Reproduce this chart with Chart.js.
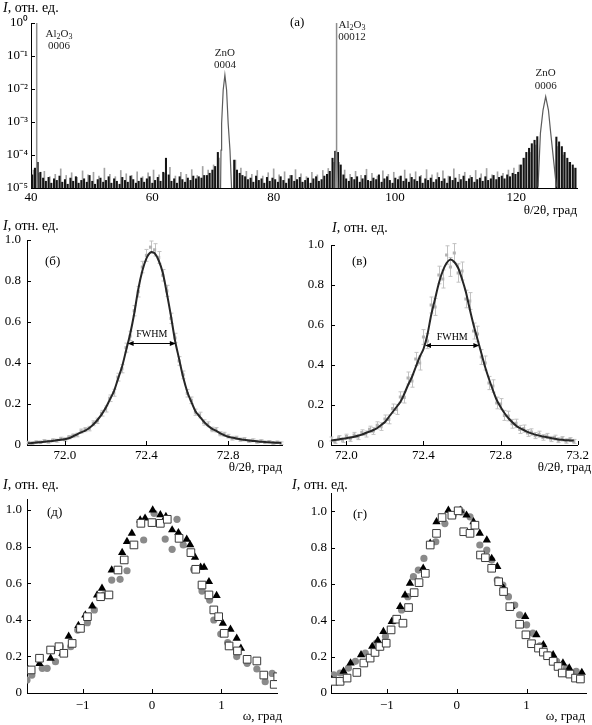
<!DOCTYPE html>
<html>
<head>
<meta charset="utf-8">
<title>ZnO / Al2O3 XRD</title>
<script src="https://cdn.jsdelivr.net/npm/chart.js@4.4.1/dist/chart.umd.min.js"></script>
<style>
  html, body { margin: 0; padding: 0; background: #fff; }
  body { position: relative; width: 592px; height: 725px; overflow: hidden; }
  canvas { position: absolute; }
</style>
</head>
<body>
<canvas id="chartA" width="592" height="225" style="left:0;top:0"></canvas>
<canvas id="chartB" width="296" height="265" style="left:0;top:215px"></canvas>
<canvas id="chartV" width="296" height="265" style="left:296px;top:215px"></canvas>
<canvas id="chartD" width="296" height="247" style="left:0;top:478px"></canvas>
<canvas id="chartG" width="304" height="247" style="left:288px;top:478px"></canvas>
<script>
// ---------- (а) wide θ/2θ scan, log scale ----------
const aXTicks = [40, 60, 80, 100, 120];
const aYTicks = [1e-5, 1e-4, 1e-3, 1e-2, 1e-1, 1];
const aYLabels = ['10⁻⁵', '10⁻⁴', '10⁻³', '10⁻²', '10⁻¹', '10⁰'];

// background spikes, in units of 1e-5 (null = under a peak)
const darkStart = 40.2, darkStep = 0.45;
const darkNoise = [
  2.5, 4, 6, 3, 2, 1.6, 2.1, 1.4, 1.9, 1.7,
  2.3, 1.5, 1.8, 1.3, 2.0, 1.6, 2.2, 1.4, 1.7, 1.9,
  1.5, 2.4, 1.6, 1.3, 1.8, 2.0, 1.5, 1.7, 2.2, 1.4,
  1.9, 1.6, 1.3, 2.1, 1.7, 1.5, 2.3, 1.8, 1.4, 1.6,
  2.0, 1.5, 1.9, 2.2, 1.4, 1.7, 2.1, 1.6, 3.0, 8.0,
  2.5, 1.6, 1.9, 1.4, 2.2, 1.8, 1.5, 2.0, 1.7, 2.3,
  1.9, 2.2, 2.0, 2.4, 2.4, 2.8, 3.5, 4.5, 12, null,
  null, null, null, null, 7, 3.5, 2.8, 2.4, 2.2, 1.8,
  2.0, 1.5, 2.3, 1.7, 1.9, 1.4, 2.1, 1.6, 2.0, 1.8,
  1.5, 2.2, 1.7, 1.4, 1.9, 2.4, 1.6, 1.8, 2.1, 1.5,
  1.7, 2.0, 1.4, 1.9, 2.2, 1.6, 1.8, 2.3, 2.6, 3.2,
  8, 13, 12, 5, 2.5, 1.9, 1.6, 2.1, 1.8, 2.2,
  1.5, 1.9, 2.4, 1.7, 1.6, 2.0, 1.8, 2.5, 1.5, 1.9,
  2.2, 1.7, 1.4, 2.0, 1.8, 2.3, 1.6, 1.9, 1.5, 2.1,
  1.8, 1.6, 2.2, 1.4, 1.9, 1.7, 2.0, 1.5, 1.8, 2.1,
  1.6, 1.9, 1.4, 2.2, 1.7, 2.0, 1.5, 1.8, 2.3, 1.6,
  1.9, 2.1, 1.5, 1.8, 2.0, 1.6, 2.2, 1.7, 1.9, 2.4,
  1.8, 2.1, 2.3, 1.9, 2.5, 2.2, 2.8, 2.6, 3.0, 5,
  8, 12, 16, 22, 28, 36, null, null, null, null,
  null, null, 35, 25, 18, 12, 8, 6, 5, 4
];
const greyStart = 40.4, greyStep = 0.9;
const greyNoise = [
  3.5, 2.8, 3.2, 2.2, 2.6, 3.8, 2.4, 2.9, 2.1, 3.3,
  2.5, 3.0, 2.3, 4.0, 2.6, 2.2, 3.4, 2.7, 2.4, 3.1,
  2.2, 2.9, 3.5, 2.5, 2.8, 4.2, 2.3, 3.0, 2.6, 3.6,
  2.4, 4.5, 3.5, 5, 8, null, null, 7, 4, 3.2,
  2.6, 3.4, 2.3, 2.9, 3.8, 2.5, 3.1, 2.4, 3.6, 2.7,
  2.2, 3.0, 2.5, 3.4, 3.9, 6, 6, 3.5, 2.6, 3.2,
  2.4, 3.7, 2.8, 2.3, 3.3, 2.6, 3.0, 2.2, 3.5, 2.7,
  3.1, 2.4, 3.6, 2.5, 2.9, 3.3, 2.3, 3.8, 2.6, 3.0,
  2.4, 3.4, 2.7, 3.9, 2.5, 3.1, 2.8, 3.5, 4.0, 5.0,
  8, 12, 20, null, null, null, 18, 10, 6, 4
];

// peak profiles [2θ, I]
const al0006 = [[40.86, 1e-5], [40.9, 6e-5], [40.93, 1e-2], [40.94, 1.0], [40.95, 1e-2], [40.98, 6e-5], [41.02, 1e-5]];
const zno0004 = [[71.25, 1e-5], [71.32, 1.4e-4], [71.42, 9e-4], [71.68, 9.3e-3], [71.96, 2.65e-2],
  [72.24, 9.3e-3], [72.5, 9e-4], [72.8, 1.4e-4], [73.06, 1e-5]];
const al00012 = [[90.2, 1e-5], [90.3, 1.3e-4], [90.33, 7.6e-4], [90.35, 1e-2], [90.36, 1.0],
  [90.37, 1e-2], [90.39, 7.6e-4], [90.42, 1.3e-4], [90.52, 1e-5]];
const zno0006 = [[123.58, 1.1e-5], [123.97, 4.6e-4], [124.4, 2.3e-3], [124.84, 5.9e-3],
  [125.29, 2.3e-3], [125.67, 4.6e-4], [126.6, 1.1e-5]];

const aNotes = [
  { x: 44.6, y: [0.46, 0.2], text: ['Al_2O_3', '0006'] },
  { x: 71.96, y: [0.123, 0.0534], text: ['ZnO', '0004'] },
  { x: 92.9, y: [0.87, 0.377], text: ['Al_2O_3', '00012'] },
  { x: 124.84, y: [0.0312, 0.0123], text: ['ZnO', '0006'] }
];

// ---------- (б) ZnO 0004 θ/2θ, sample 1 ----------
const bTicks = [72.0, 72.4, 72.8];
const bX = [71.82, 71.84, 71.86, 71.88, 71.90, 71.92, 71.94, 71.96, 71.98, 72.00,
  72.02, 72.04, 72.06, 72.08, 72.10, 72.12, 72.14, 72.16, 72.18, 72.20,
  72.22, 72.24, 72.26, 72.28, 72.30, 72.32, 72.34, 72.36, 72.38, 72.40,
  72.42, 72.44, 72.46, 72.48, 72.50, 72.52, 72.54, 72.56, 72.58, 72.60,
  72.62, 72.64, 72.66, 72.68, 72.70, 72.72, 72.74, 72.76, 72.78, 72.80,
  72.82, 72.84, 72.86, 72.88, 72.90, 72.92, 72.94, 72.96, 72.98, 73.00,
  73.02, 73.04, 73.06];
const bFit = [.008, .010, .012, .014, .016, .018, .020, .023, .026, .028,
  .033, .042, .052, .062, .070, .083, .100, .122, .148, .180,
  .220, .260, .320, .380, .460, .540, .640, .760, .850, .910,
  .940, .935, .900, .840, .740, .630, .510, .420, .330, .260,
  .210, .165, .140, .115, .095, .080, .070, .058, .048, .040,
  .036, .032, .028, .025, .022, .020, .018, .016, .015, .013,
  .012, .011, .010];
const bData = [.012, .009, .014, .013, .019, .016, .023, .021, .030, .027,
  .038, .045, .049, .068, .075, .080, .106, .118, .155, .176,
  .228, .255, .331, .372, .475, .532, .655, .748, .868, .925,
  .965, .952, .915, .828, .752, .618, .522, .410, .342, .252,
  .218, .160, .146, .110, .101, .076, .074, .055, .052, .043,
  .033, .035, .026, .028, .020, .023, .016, .019, .013, .016,
  .010, .013, .009];
const bErr = [.006, .006, .006, .006, .007, .007, .007, .007, .008, .008,
  .008, .009, .009, .010, .010, .011, .012, .013, .014, .015,
  .016, .017, .019, .020, .022, .023, .025, .026, .028, .029,
  .030, .030, .029, .028, .027, .025, .023, .021, .019, .018,
  .016, .015, .014, .013, .012, .011, .011, .010, .010, .009,
  .009, .008, .008, .008, .007, .007, .007, .007, .006, .006,
  .006, .006, .006];

// ---------- (в) ZnO 0004 θ/2θ, sample 2 ----------
const vTicks = [72.0, 72.4, 72.8, 73.2];
const vX = [71.92, 71.94, 71.96, 71.98, 72.00, 72.02, 72.04, 72.06, 72.08, 72.10,
  72.12, 72.14, 72.16, 72.18, 72.20, 72.22, 72.24, 72.26, 72.28, 72.30,
  72.32, 72.34, 72.36, 72.38, 72.40, 72.42, 72.44, 72.46, 72.48, 72.50,
  72.52, 72.54, 72.56, 72.58, 72.60, 72.62, 72.64, 72.66, 72.68, 72.70,
  72.72, 72.74, 72.76, 72.78, 72.80, 72.82, 72.84, 72.86, 72.88, 72.90,
  72.92, 72.94, 72.96, 72.98, 73.00, 73.02, 73.04, 73.06, 73.08, 73.10,
  73.12, 73.14, 73.16, 73.18];
const vFit = [.022, .025, .028, .031, .034, .038, .041, .046, .052, .060,
  .067, .075, .085, .100, .115, .140, .165, .190, .215, .255,
  .300, .340, .390, .440, .480, .550, .650, .730, .810, .870,
  .910, .928, .915, .885, .830, .765, .680, .600, .530, .460,
  .390, .330, .275, .225, .190, .160, .135, .115, .097, .085,
  .075, .066, .058, .052, .047, .043, .039, .035, .031, .028,
  .026, .024, .023, .022];
const vData = [.030, .018, .036, .024, .042, .030, .050, .040, .062, .055,
  .078, .070, .098, .092, .130, .128, .182, .178, .240, .238,
  .335, .320, .430, .410, .540, .520, .700, .690, .850, .830,
  .950, .890, .960, .860, .870, .730, .720, .570, .555, .440,
  .410, .310, .295, .210, .205, .148, .145, .106, .108, .078,
  .082, .060, .065, .047, .054, .038, .045, .030, .037, .024,
  .031, .020, .027, .018];
const vErr = [.010, .010, .011, .011, .012, .012, .013, .013, .014, .015,
  .016, .017, .018, .019, .020, .022, .023, .025, .026, .028,
  .030, .031, .033, .035, .037, .038, .040, .042, .044, .045,
  .046, .047, .047, .046, .045, .044, .042, .040, .039, .037,
  .035, .033, .031, .029, .027, .025, .024, .022, .021, .020,
  .018, .017, .016, .015, .015, .014, .013, .013, .012, .012,
  .011, .011, .010, .010];

// ---------- (д), (г) ω rocking curves [ω, I] ----------
const omegaTicks = [-1, 0, 1];
const unitTicks = [0, 0.2, 0.4, 0.6, 0.8, 1.0];

const dCirc = [[-1.8, .071], [-1.73, .098], [-1.58, .135], [-1.51, .135], [-1.39, .171], [-1.32, .253],
  [-1.17, .253], [-1.07, .344], [-0.93, .384], [-0.83, .454], [-0.69, .536], [-0.58, .617], [-0.46, .621],
  [-0.36, .668], [-0.12, .836], [0.03, .982], [0.19, .841], [0.29, .785], [0.36, .949], [0.45, .809],
  [0.6, .676], [0.72, .557], [0.83, .508], [0.89, .399], [0.99, .322], [1.09, .275], [1.22, .199],
  [1.37, .162], [1.51, .131], [1.63, .062], [1.73, .107]];
const dTri = [[-1.78, .126], [-1.62, .16], [-1.46, .19], [-1.29, .217], [-1.2, .31], [-1.06, .368],
  [-0.96, .426], [-0.86, .475], [-0.79, .535], [-0.72, .572], [-0.58, .672], [-0.43, .767], [-0.36, .827],
  [-0.29, .872], [-0.17, .945], [-0.1, .955], [0.01, 1.0], [0.12, .973], [0.2, .964], [0.29, .891],
  [0.38, .876], [0.5, .84], [0.55, .81], [0.62, .741], [0.7, .687], [0.75, .687], [0.82, .608],
  [0.93, .532], [1.02, .381], [1.13, .348], [1.22, .299], [1.28, .244]];
const dSq = [[-1.74, .126], [-1.62, .19], [-1.46, .235], [-1.34, .253], [-1.27, .217], [-1.15, .271],
  [-1.03, .353], [-0.93, .417], [-0.74, .526], [-0.62, .536], [-0.49, .672], [-0.4, .727], [-0.26, .809],
  [-0.16, .927], [0, .931], [0.12, .927], [0.22, .949], [0.39, .845], [0.56, .767], [0.63, .676],
  [0.72, .59], [0.82, .536], [0.89, .454], [0.96, .417], [1.04, .326], [1.11, .257], [1.23, .23],
  [1.37, .184], [1.51, .175], [1.61, .098], [1.76, .047], [1.81, .089]];

const gCirc = [[-1.76, .1], [-1.67, .11], [-1.55, .137], [-1.45, .174], [-1.31, .219], [-1.15, .274],
  [-1.02, .311], [-0.9, .397], [-0.79, .457], [-0.7, .53], [-0.62, .64], [-0.55, .676], [-0.47, .74],
  [-0.3, .832], [-0.17, .932], [-0.05, .978], [0.07, .996], [0.19, .969], [0.33, .814], [0.43, .786],
  [0.5, .731], [0.58, .622], [0.66, .594], [0.74, .53], [0.83, .484], [0.9, .43], [1.0, .375],
  [1.09, .329], [1.19, .26], [1.31, .21], [1.43, .174], [1.57, .137], [1.71, .119]];
const gTri = [[-1.79, .073], [-1.62, .119], [-1.52, .165], [-1.37, .21], [-1.21, .256], [-1.13, .289],
  [-1.05, .338], [-0.93, .393], [-0.81, .475], [-0.74, .539], [-0.67, .603], [-0.48, .686], [-0.38, .823],
  [-0.29, .941], [-0.12, 1.005], [0.05, 1.005], [0.14, .978], [0.24, .941], [0.33, .878], [0.43, .841],
  [0.5, .74], [0.58, .695], [0.67, .576], [0.78, .475], [0.98, .42], [1.14, .32], [1.24, .265],
  [1.38, .21], [1.52, .165], [1.61, .137], [1.79, .113]];
const gSq = [[-1.76, .064], [-1.67, .064], [-1.57, .082], [-1.43, .113], [-1.33, .165], [-1.24, .192],
  [-1.17, .223], [-1.1, .256], [-1.01, .274], [-0.94, .347], [-0.86, .406], [-0.77, .384], [-0.69, .47],
  [-0.61, .552], [-0.54, .607], [-0.45, .658], [-0.38, .814], [-0.29, .878], [-0.21, .965], [-0.07, .978],
  [0.02, 1.002], [0.1, .887], [0.19, .878], [0.26, .923], [0.34, .759], [0.41, .744], [0.5, .686],
  [0.6, .612], [0.67, .558], [0.76, .475], [0.9, .378], [0.99, .32], [1.07, .271], [1.17, .247],
  [1.24, .225], [1.3, .205], [1.38, .174], [1.45, .146], [1.51, .11], [1.62, .104], [1.7, .082],
  [1.77, .077]];

// ---------- shared setup ----------
const SERIF = "'Liberation Serif', 'Times New Roman', serif";
Chart.defaults.font.family = SERIF;
Chart.defaults.font.size = 13;
Chart.defaults.color = '#000';
Chart.defaults.animation = false;

function pts(pairs) { return pairs.map(p => ({ x: p[0], y: p[1] })); }
function zip(xs, ys) { return xs.map((x, i) => ({ x: x, y: ys[i] })); }
function spikes(vals, start, step) {
  return vals.map((v, i) => ({ x: start + i * step, y: v === null ? null : v * 1e-5 }));
}

function axis(o) {
  const s = {
    type: o.type || 'linear', min: o.min, max: o.max, offset: false,
    afterBuildTicks: sc => { sc.ticks = o.ticks.map(v => ({ value: v })); },
    ticks: { callback: o.fmt, padding: o.pad, maxRotation: 0, autoSkip: false, color: '#000' },
    grid: { display: true, drawOnChartArea: false, drawTicks: false },
    border: { display: true, color: '#000', width: 1 }
  };
  if (o.width) s.afterFit = sc => { sc.width = o.width; };
  if (o.height) s.afterFit = sc => { sc.height = o.height; };
  return s;
}
const fmt1 = v => v.toFixed(1);
const fmtUnit = v => (v === 0 ? '0' : v.toFixed(1));
const fmtOmega = v => (v < 0 ? '\u2212' + Math.abs(v) : String(v));

// short tick marks pointing into the plot
function ticksIn(withX) {
  return {
    id: 'ticksIn',
    afterDraw(chart) {
      const ctx = chart.ctx, a = chart.chartArea, xs = chart.scales.x, ys = chart.scales.y;
      ctx.save();
      ctx.strokeStyle = '#000';
      ctx.lineWidth = 1;
      ctx.beginPath();
      if (withX) xs.ticks.forEach(t => {
        const p = Math.round(xs.getPixelForValue(t.value)) + 0.5;
        ctx.moveTo(p, a.bottom); ctx.lineTo(p, a.bottom - 4);
      });
      ys.ticks.forEach(t => {
        const p = Math.round(ys.getPixelForValue(t.value)) + 0.5;
        ctx.moveTo(a.left, p); ctx.lineTo(a.left + 4, p);
      });
      ctx.stroke();
      ctx.restore();
    }
  };
}

// axis titles and panel letter
function decor(d) {
  return {
    id: 'decor',
    afterDraw(chart) {
      const ctx = chart.ctx;
      ctx.save();
      ctx.fillStyle = '#000';
      ctx.textBaseline = 'middle';
      ctx.textAlign = 'left';
      ctx.font = 'italic 14px ' + SERIF;
      ctx.fillText('I', d.yt[0], d.yt[1]);
      const w = ctx.measureText('I').width;
      ctx.font = '14px ' + SERIF;
      ctx.fillText(', отн. ед.', d.yt[0] + w, d.yt[1]);
      ctx.font = '13px ' + SERIF;
      ctx.fillText(d.tag, d.tagAt[0], d.tagAt[1]);
      ctx.textAlign = 'right';
      ctx.fillText(d.xTitle, d.xt[0], d.xt[1]);
      ctx.restore();
    }
  };
}

const errorBars = {
  id: 'errorBars',
  beforeDatasetsDraw(chart) {
    const ctx = chart.ctx, ys = chart.scales.y;
    ctx.save();
    ctx.strokeStyle = '#c2c2c2';
    ctx.lineWidth = 1;
    ctx.beginPath();
    chart.data.datasets.forEach((ds, di) => {
      if (!ds.errs) return;
      chart.getDatasetMeta(di).data.forEach((el, i) => {
        const v = ds.data[i].y, e = ds.errs[i];
        const top = ys.getPixelForValue(v + e), bot = ys.getPixelForValue(v - e);
        const x = Math.round(el.x) + 0.5;
        ctx.moveTo(x, top); ctx.lineTo(x, bot);
        ctx.moveTo(x - 2, top); ctx.lineTo(x + 2, top);
        ctx.moveTo(x - 2, bot); ctx.lineTo(x + 2, bot);
      });
    });
    ctx.stroke();
    ctx.restore();
  }
};

function fwhmNote(n) {
  return {
    id: 'fwhm',
    afterDatasetsDraw(chart) {
      const ctx = chart.ctx, xs = chart.scales.x, ys = chart.scales.y;
      const x1 = xs.getPixelForValue(n.from), x2 = xs.getPixelForValue(n.to);
      const y = Math.round(ys.getPixelForValue(n.level)) + 0.5;
      ctx.save();
      ctx.strokeStyle = '#000';
      ctx.fillStyle = '#000';
      ctx.lineWidth = 1;
      ctx.beginPath(); ctx.moveTo(x1 + 3, y); ctx.lineTo(x2 - 3, y); ctx.stroke();
      ctx.beginPath(); ctx.moveTo(x1, y); ctx.lineTo(x1 + 6, y - 2.5); ctx.lineTo(x1 + 6, y + 2.5); ctx.closePath(); ctx.fill();
      ctx.beginPath(); ctx.moveTo(x2, y); ctx.lineTo(x2 - 6, y - 2.5); ctx.lineTo(x2 - 6, y + 2.5); ctx.closePath(); ctx.fill();
      ctx.font = '10px ' + SERIF;
      ctx.textAlign = 'center';
      ctx.textBaseline = 'middle';
      ctx.fillText('FWHM', (x1 + x2) / 2, ys.getPixelForValue(n.textLevel));
      ctx.restore();
    }
  };
}

// reflection labels with subscripts (Al_2O_3)
function drawChem(ctx, s, cx, cy) {
  const parts = s.split(/_(\d)/);
  const MAIN = '11px ' + SERIF, SUB = '8px ' + SERIF;
  let w = 0;
  parts.forEach((p, k) => { ctx.font = k % 2 ? SUB : MAIN; w += ctx.measureText(p).width; });
  let x = cx - w / 2;
  parts.forEach((p, k) => {
    ctx.font = k % 2 ? SUB : MAIN;
    ctx.fillText(p, x, cy + (k % 2 ? 3 : 0));
    x += ctx.measureText(p).width;
  });
}
const peakNotes = {
  id: 'peakNotes',
  afterDraw(chart) {
    const ctx = chart.ctx, xs = chart.scales.x, ys = chart.scales.y;
    ctx.save();
    ctx.fillStyle = '#222';
    ctx.textAlign = 'left';
    ctx.textBaseline = 'middle';
    aNotes.forEach(n => {
      const cx = xs.getPixelForValue(n.x);
      n.text.forEach((t, k) => drawChem(ctx, t, cx, ys.getPixelForValue(n.y[k])));
    });
    ctx.restore();
  }
};

const quiet = { legend: { display: false }, tooltip: { enabled: false } };

// ---------- (а) ----------
new Chart(document.getElementById('chartA'), {
  type: 'bar',
  data: {
    datasets: [
      { type: 'line', data: pts(al0006), borderColor: '#8d8d8d', borderWidth: 1.5, pointRadius: 0, order: 0 },
      { type: 'line', data: pts(al00012), borderColor: '#8d8d8d', borderWidth: 1.5, pointRadius: 0, order: 0 },
      { type: 'line', data: pts(zno0004), borderColor: '#5c5c5c', borderWidth: 1.2, pointRadius: 0, order: 0 },
      { type: 'line', data: pts(zno0006), borderColor: '#5c5c5c', borderWidth: 1.2, pointRadius: 0, order: 0 },
      { data: spikes(darkNoise, darkStart, darkStep), backgroundColor: '#141414', barThickness: 1.4, grouped: false, order: 1 },
      { data: spikes(greyNoise, greyStart, greyStep), backgroundColor: '#a3a3a3', barThickness: 1, grouped: false, order: 2 }
    ]
  },
  options: {
    responsive: false,
    layout: { padding: { left: 0, top: 23, right: 15, bottom: 21 }, autoPadding: false },
    scales: {
      x: axis({ min: 40, max: 130, ticks: aXTicks, fmt: v => String(v), height: 16, pad: 2 }),
      y: axis({ type: 'logarithmic', min: 1e-5, max: 1, ticks: aYTicks,
        fmt: v => aYLabels[aYTicks.indexOf(v)], width: 31, pad: 3 })
    },
    plugins: quiet
  },
  plugins: [ticksIn(false), peakNotes,
    decor({ yt: [3, 8], tag: '(а)', tagAt: [290, 23], xTitle: 'θ/2θ, град', xt: [577, 211] })]
});

// ---------- θ/2θ close-ups ----------
function peakChart(id, o) {
  return new Chart(document.getElementById(id), {
    type: 'scatter',
    data: {
      datasets: [
        { data: zip(o.x, o.fit), showLine: true, borderColor: '#262626', borderWidth: 2, pointRadius: 0, tension: 0.3, order: 0 },
        { data: zip(o.x, o.data), errs: o.err, pointStyle: 'rect', pointRadius: 2.2,
          backgroundColor: '#b3b3b3', borderWidth: 0, order: 1 }
      ]
    },
    options: {
      responsive: false,
      layout: { padding: o.padding, autoPadding: false },
      scales: {
        x: axis({ min: o.min, max: o.max, ticks: o.ticks, fmt: fmt1, height: 16, pad: 3 }),
        y: axis({ min: 0, max: 1, ticks: unitTicks, fmt: fmtUnit, width: o.yWidth, pad: o.yPad })
      },
      plugins: quiet
    },
    plugins: [errorBars, ticksIn(true), fwhmNote(o.fwhm), decor(o.decor)]
  });
}

peakChart('chartB', {
  x: bX, fit: bFit, data: bData, err: bErr, min: 71.815, max: 73.064, ticks: bTicks,
  padding: { left: 0, top: 25, right: 14, bottom: 19 }, yWidth: 27, yPad: 6,
  fwhm: { from: 72.308, to: 72.544, level: 0.5, textLevel: 0.54 },
  decor: { yt: [3, 11], tag: '(б)', tagAt: [45, 47], xTitle: 'θ/2θ, град', xt: [282, 253] }
});
peakChart('chartV', {
  x: vX, fit: vFit, data: vData, err: vErr, min: 71.92, max: 73.2, ticks: vTicks,
  padding: { left: 0, top: 30, right: 9, bottom: 19 }, yWidth: 35, yPad: 7,
  fwhm: { from: 72.408, to: 72.69, level: 0.5, textLevel: 0.54 },
  decor: { yt: [36, 13], tag: '(в)', tagAt: [56, 47], xTitle: 'θ/2θ, град', xt: [295, 253] }
});

// ---------- ω rocking curves ----------
function rockChart(id, o) {
  return new Chart(document.getElementById(id), {
    type: 'scatter',
    data: {
      datasets: [
        { data: pts(o.sq), pointStyle: 'rect', pointRadius: 5.4, backgroundColor: '#fff',
          borderColor: '#3a3a3a', borderWidth: 1, order: 0 },
        { data: pts(o.tri), pointStyle: 'triangle', pointRadius: 4.8, backgroundColor: '#000',
          borderColor: '#000', borderWidth: 0, order: 1 },
        { data: pts(o.circ), pointStyle: 'circle', pointRadius: 3.6, backgroundColor: '#8a8a8a',
          borderWidth: 0, order: 2 }
      ]
    },
    options: {
      responsive: false,
      layout: { padding: o.padding, autoPadding: false },
      scales: {
        x: axis({ min: o.min, max: o.max, ticks: omegaTicks, fmt: fmtOmega, height: 16, pad: 5 }),
        y: axis({ min: 0, max: o.yMax, ticks: unitTicks, fmt: fmtUnit, width: o.yWidth, pad: o.yPad })
      },
      plugins: quiet
    },
    plugins: [ticksIn(true), decor(o.decor)]
  });
}

rockChart('chartD', {
  circ: dCirc, tri: dTri, sq: dSq, min: -1.8, max: 1.8, yMax: 1.06,
  padding: { left: 0, top: 21, right: 19, bottom: 16 }, yWidth: 27, yPad: 5,
  decor: { yt: [3, 7], tag: '(д)', tagAt: [47, 35], xTitle: 'ω, град', xt: [282, 239] }
});
rockChart('chartG', {
  circ: gCirc, tri: gTri, sq: gSq, min: -1.8, max: 1.85, yMax: 1.1,
  padding: { left: 0, top: 15, right: 6, bottom: 16 }, yWidth: 43, yPad: 4,
  decor: { yt: [4, 7], tag: '(г)', tagAt: [65, 37], xTitle: 'ω, град', xt: [297, 239] }
});
</script>
</body>
</html>
